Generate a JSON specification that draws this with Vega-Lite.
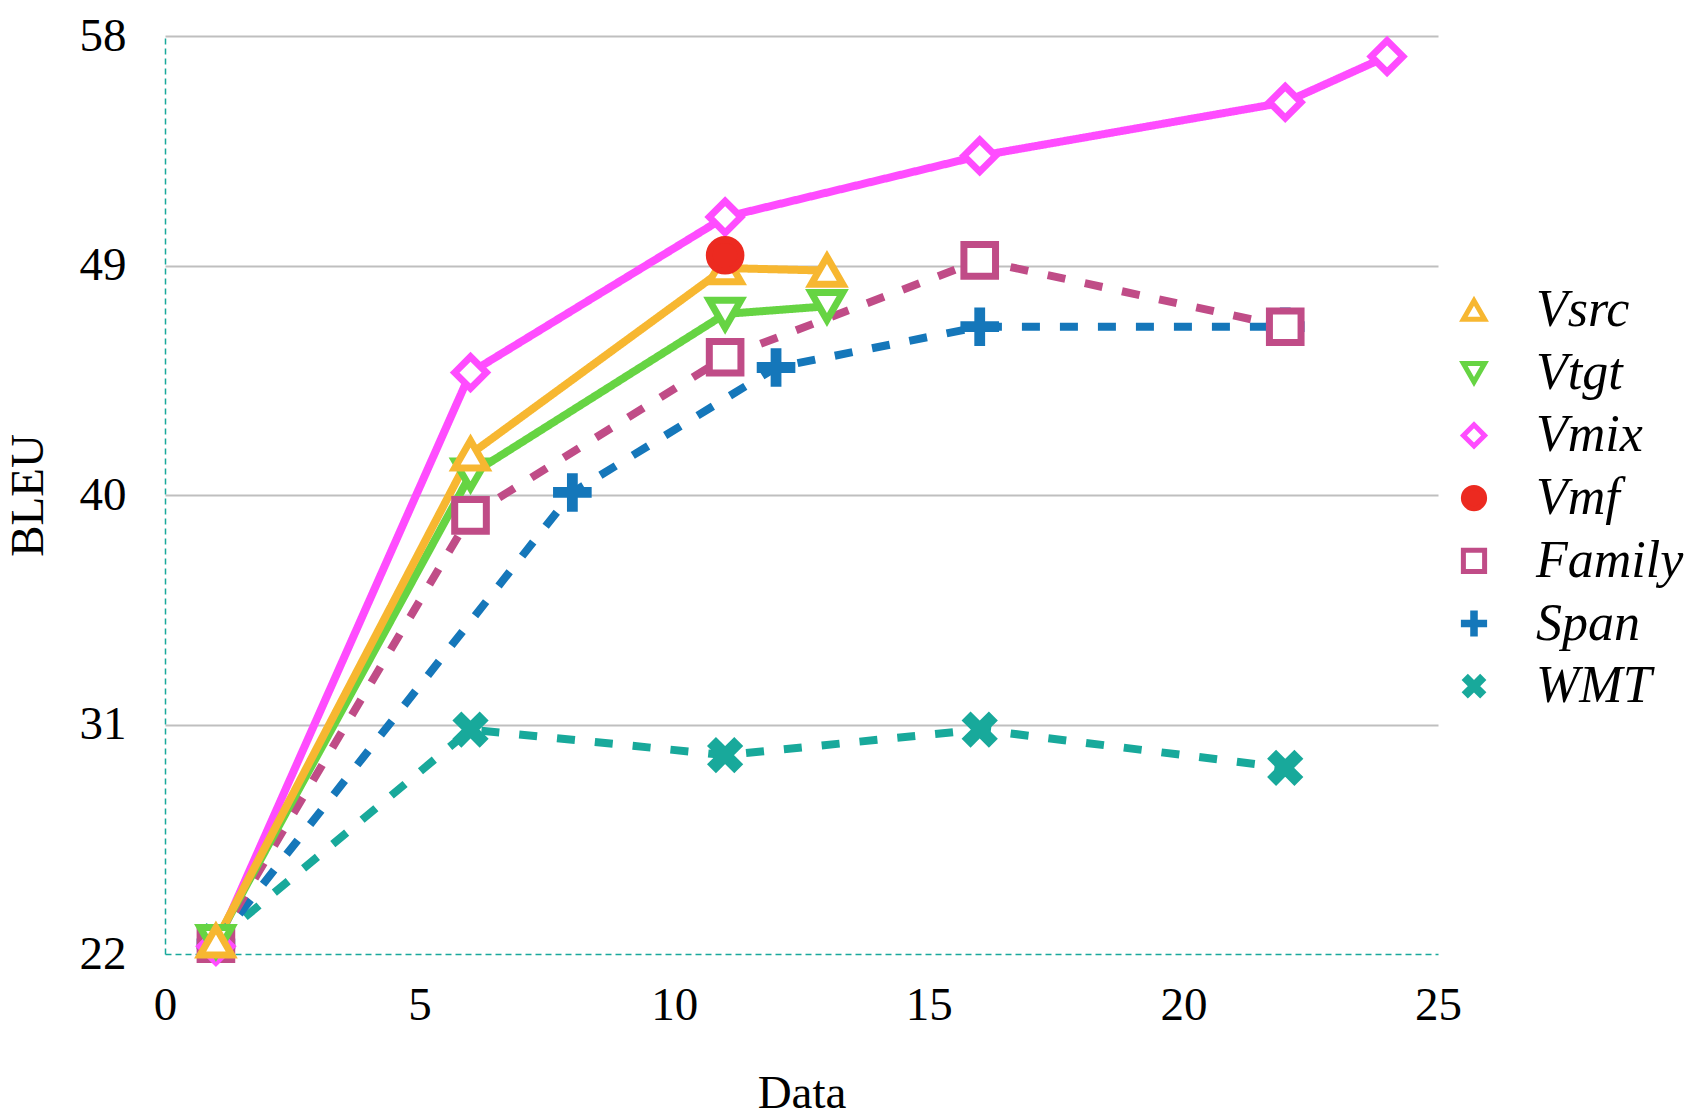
{
  "$schema": "https://vega.github.io/schema/vega-lite/v6.json",
  "width": 1273,
  "height": 918,
  "autosize": "none",
  "padding": {"left": 165, "top": 36, "right": 260, "bottom": 166},
  "background": "white",
  "data": {
    "values": [
      {"series": "WMT", "x": 1, "y": 22.5},
      {"series": "WMT", "x": 6, "y": 30.8},
      {"series": "WMT", "x": 11, "y": 29.8},
      {"series": "WMT", "x": 16, "y": 30.8},
      {"series": "WMT", "x": 22, "y": 29.3},
      {"series": "Span", "x": 1, "y": 22.4},
      {"series": "Span", "x": 8, "y": 40.1},
      {"series": "Span", "x": 12, "y": 45.0},
      {"series": "Span", "x": 16, "y": 46.6},
      {"series": "Span", "x": 22, "y": 46.6},
      {"series": "Family", "x": 1, "y": 22.4},
      {"series": "Family", "x": 6, "y": 39.2},
      {"series": "Family", "x": 11, "y": 45.4},
      {"series": "Family", "x": 16, "y": 49.2},
      {"series": "Family", "x": 22, "y": 46.6},
      {"series": "Vmix", "x": 1, "y": 22.3},
      {"series": "Vmix", "x": 6, "y": 44.8},
      {"series": "Vmix", "x": 11, "y": 50.9},
      {"series": "Vmix", "x": 16, "y": 53.3},
      {"series": "Vmix", "x": 22, "y": 55.4},
      {"series": "Vmix", "x": 24, "y": 57.2},
      {"series": "Vtgt", "x": 1, "y": 22.5},
      {"series": "Vtgt", "x": 6, "y": 40.8},
      {"series": "Vtgt", "x": 11, "y": 47.1},
      {"series": "Vtgt", "x": 13, "y": 47.4},
      {"series": "Vsrc", "x": 1, "y": 22.5},
      {"series": "Vsrc", "x": 6, "y": 41.6},
      {"series": "Vsrc", "x": 11, "y": 48.9},
      {"series": "Vsrc", "x": 13, "y": 48.8},
      {"series": "Vmf", "x": 11, "y": 49.4}
    ]
  },
  "encoding": {
    "x": {
      "field": "x",
      "type": "quantitative",
      "scale": {"domain": [0, 25], "nice": false, "zero": false},
      "axis": {
        "title": "Data",
        "values": [0, 5, 10, 15, 20, 25],
        "grid": false,
        "ticks": false,
        "labelFlush": false,
        "labelPadding": 28,
        "titleBaseline": "alphabetic",
        "titleY": 153
      }
    },
    "y": {
      "field": "y",
      "type": "quantitative",
      "scale": {"domain": [22, 58], "nice": false, "zero": false},
      "axis": {
        "title": "BLEU",
        "values": [22, 31, 40, 49, 58],
        "grid": true,
        "gridColor": {"condition": {"test": "datum.value === 22", "value": "transparent"}, "value": "#bfbfbf"},
        "gridWidth": 2,
        "ticks": false,
        "labelFlush": false,
        "labelPadding": 39,
        "titleBaseline": "alphabetic",
        "titleX": -123
      }
    }
  },
  "layer": [
    {
      "mark": {"type": "line", "strokeWidth": 8, "strokeCap": "butt"},
      "encoding": {
        "color": {
          "field": "series",
          "type": "nominal",
          "scale": {
            "domain": ["WMT", "Span", "Family", "Vmf", "Vmix", "Vtgt", "Vsrc"],
            "range": ["#18A99B", "#1577BA", "#C04C87", "#EC2A20", "#FF4CFF", "#66D443", "#F7B731"]
          },
          "legend": null
        },
        "strokeDash": {
          "field": "series",
          "type": "nominal",
          "scale": {
            "domain": ["WMT", "Span", "Family", "Vmf", "Vmix", "Vtgt", "Vsrc"],
            "range": [[18, 20], [18, 20], [18, 20], [1, 0], [1, 0], [1, 0], [1, 0]]
          },
          "legend": null
        }
      }
    },
    {
      "mark": {"type": "point", "size": 1000, "strokeWidth": 7, "opacity": 1},
      "encoding": {
        "stroke": {
          "field": "series",
          "type": "nominal",
          "scale": {
            "domain": ["Vsrc", "Vtgt", "Vmix", "Vmf", "Family", "Span", "WMT"],
            "range": ["#F7B731", "#66D443", "#FF4CFF", "#EC2A20", "#C04C87", "#1577BA", "#18A99B"]
          },
          "legend": {"title": null}
        },
        "fill": {
          "field": "series",
          "type": "nominal",
          "scale": {
            "domain": ["Vsrc", "Vtgt", "Vmix", "Vmf", "Family", "Span", "WMT"],
            "range": ["#ffffff", "#ffffff", "#ffffff", "#EC2A20", "#ffffff", "#1577BA", "#18A99B"]
          },
          "legend": {"title": null}
        },
        "shape": {
          "field": "series",
          "type": "nominal",
          "scale": {
            "domain": ["Vsrc", "Vtgt", "Vmix", "Vmf", "Family", "Span", "WMT"],
            "range": [
              "triangle-up",
              "triangle-down",
              "diamond",
              "circle",
              "square",
              "M-0.12,-1H0.12V-0.12H1V0.12H0.12V1H-0.12V0.12H-1V-0.12H-0.12Z",
              "M0.58,-0.834L0.834,-0.58L0.255,0L0.834,0.58L0.58,0.834L0,0.255L-0.58,0.834L-0.834,0.58L-0.255,0L-0.834,-0.58L-0.58,-0.834L0,-0.255Z"
            ]
          },
          "legend": {"title": null}
        }
      }
    }
  ],
  "config": {
    "view": {"stroke": null},
    "font": "Liberation Serif",
    "legend": {
      "orient": "none",
      "legendX": 1283,
      "legendY": 248,
      "symbolSize": 450,
      "symbolStrokeWidth": 5,
      "labelOffset": 36,
      "rowPadding": 10.7,
      "labelFont": "Liberation Serif",
      "labelFontStyle": "italic",
      "labelFontSize": 52,
      "labelColor": "black",
      "labelLimit": 400
    },
    "axis": {
      "labelFont": "Liberation Serif",
      "titleFont": "Liberation Serif",
      "labelFontSize": 47,
      "titleFontSize": 47,
      "titleFontWeight": "normal",
      "labelColor": "black",
      "titleColor": "black",
      "domainColor": "#18A99B",
      "domainWidth": 1.5,
      "domainDash": [6, 4]
    }
  }
}
